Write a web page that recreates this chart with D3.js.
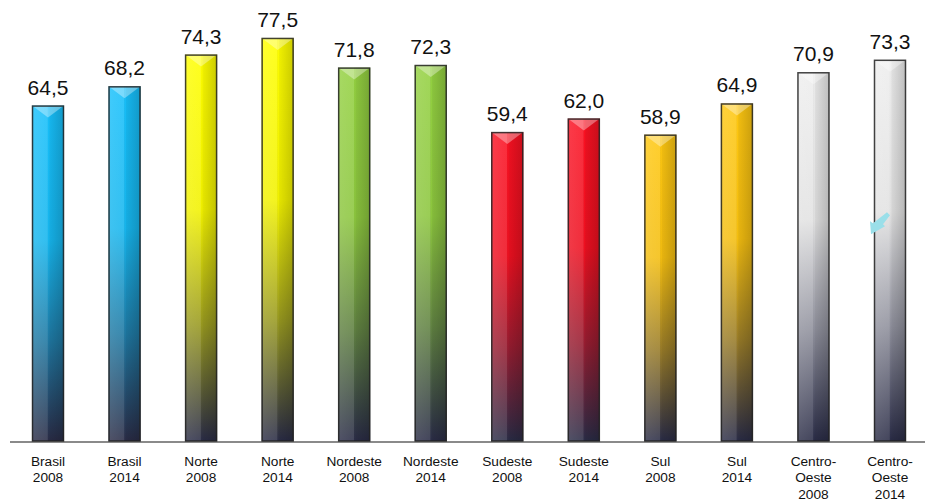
<!DOCTYPE html>
<html><head><meta charset="utf-8">
<script src="https://cdn.jsdelivr.net/npm/d3@7"></script>
<style>html,body{margin:0;padding:0;background:#fff}svg{display:block}</style>
</head><body>
<svg id="chart" width="925" height="501"></svg>
<script>
const categories = ["Brasil 2008","Brasil 2014","Norte 2008","Norte 2014","Nordeste 2008","Nordeste 2014","Sudeste 2008","Sudeste 2014","Sul 2008","Sul 2014","Centro-Oeste 2008","Centro-Oeste 2014"];
const labelLines = [["Brasil","2008"],["Brasil","2014"],["Norte","2008"],["Norte","2014"],["Nordeste","2008"],["Nordeste","2014"],["Sudeste","2008"],["Sudeste","2014"],["Sul","2008"],["Sul","2014"],["Centro-","Oeste","2008"],["Centro-","Oeste","2014"]];
const values = [64.5,68.2,74.3,77.5,71.8,72.3,59.4,62.0,58.9,64.9,70.9,73.3];
const valueLabels = ["64,5","68,2","74,3","77,5","71,8","72,3","59,4","62,0","58,9","64,9","70,9","73,3"];
const colors = ["#16b6ee","#16b6ee","#f2f200","#f2f200","#8cc63e","#8cc63e","#ee1020","#ee1020","#f4be10","#f4be10","#e2e2e2","#e2e2e2"];

const svg = d3.select("#chart");
const x = d3.scalePoint().domain(categories).range([48, 890]);
const y = d3.scaleLinear().domain([0, 84.8]).range([441, 0]);
const bw = 32;
const dark = "#2a2c46";

const defs = svg.append("defs");
categories.forEach((c, i) => {
  const g = defs.append("linearGradient").attr("id", "vg" + i).attr("x1", 0).attr("y1", 0).attr("x2", 0).attr("y2", 1);
  const col = d3.color(colors[i]);
  const mix = d3.interpolateRgb(colors[i], dark);
  g.append("stop").attr("offset", "0%").attr("stop-color", col.brighter(0.15));
  g.append("stop").attr("offset", "40%").attr("stop-color", col);
  g.append("stop").attr("offset", "70%").attr("stop-color", mix(0.45));
  g.append("stop").attr("offset", "100%").attr("stop-color", dark);
});
const hg = defs.append("linearGradient").attr("id", "hg").attr("x1", 0).attr("y1", 0).attr("x2", 1).attr("y2", 0);
[["0%","#fff",0.18],["48%","#fff",0.12],["52%","#000",0.0],["56%","#000",0.06],["100%","#000",0.2]].forEach(s =>
  hg.append("stop").attr("offset", s[0]).attr("stop-color", s[1]).attr("stop-opacity", s[2]));

// axis line
svg.append("line").attr("x1", 10).attr("x2", 925).attr("y1", y(0) + 1).attr("y2", y(0) + 1)
  .attr("stroke", "#8a8a8a").attr("stroke-width", 2);

const bars = svg.append("g").selectAll("g").data(categories).join("g");
bars.append("rect")
  .attr("x", d => x(d) - bw / 2).attr("width", bw)
  .attr("y", (d, i) => y(values[i])).attr("height", (d, i) => y(0) - y(values[i]))
  .attr("fill", (d, i) => `url(#vg${i})`);
bars.append("rect")
  .attr("x", d => x(d) - bw / 2).attr("width", bw)
  .attr("y", (d, i) => y(values[i])).attr("height", (d, i) => y(0) - y(values[i]))
  .attr("fill", "url(#hg)");
// top chevron bevel
bars.append("path")
  .attr("d", (d, i) => {
    const cx = x(d), t = y(values[i]);
    return `M${cx - bw / 2},${t} L${cx + bw / 2},${t} L${cx},${t + 12} Z`;
  })
  .attr("fill", "#fff").attr("fill-opacity", 0.35);
bars.append("rect")
  .attr("x", d => x(d) - bw / 2 + 0.5).attr("width", bw - 1)
  .attr("y", (d, i) => y(values[i]) + 0.5).attr("height", (d, i) => y(0) - y(values[i]) - 0.5)
  .attr("fill", "none").attr("stroke", "#222").attr("stroke-opacity", 0.85).attr("stroke-width", 1.5);

// value labels
svg.append("g").selectAll("text").data(categories).join("text")
  .attr("x", d => x(d)).attr("y", (d, i) => y(values[i]) - 11)
  .attr("text-anchor", "middle")
  .attr("font-family", "Liberation Sans, Arial, sans-serif").attr("font-size", 21)
  .attr("fill", "#111")
  .text((d, i) => valueLabels[i]);

// category labels
const cl = svg.append("g").selectAll("text").data(categories).join("text")
  .attr("x", d => x(d)).attr("y", 466)
  .attr("text-anchor", "middle")
  .attr("font-family", "Liberation Sans, Arial, sans-serif").attr("font-size", 13.7)
  .attr("fill", "#111");
cl.each(function(d, i) {
  d3.select(this).selectAll("tspan").data(labelLines[i]).join("tspan")
    .attr("x", x(d)).attr("dy", (t, j) => j === 0 ? 0 : 16.3).text(t => t);
});

// small cyan arrow artifact on last bar
const last = categories[categories.length - 1];
const ax = x(last) - 16, ay = y(44);
svg.append("path")
  .attr("d", `M${ax + 13},${ay} L${ax + 16},${ay + 3} L${ax + 9},${ay + 12} L${ax + 11},${ay + 14} L${ax - 3},${ay + 22} L${ax - 4},${ay + 9} L${ax - 1},${ay + 11} Z`)
  .attr("fill", "#9adfe9");
</script>
</body></html>
